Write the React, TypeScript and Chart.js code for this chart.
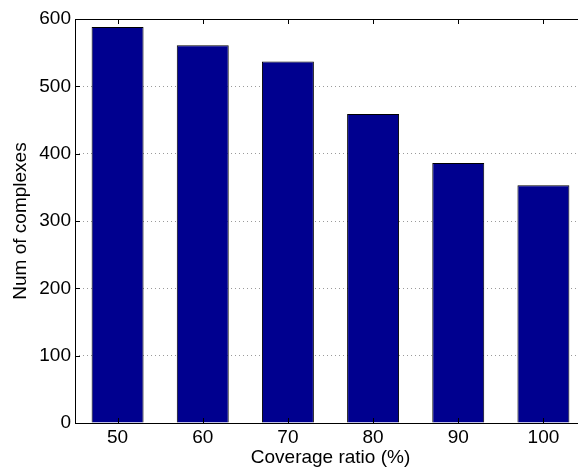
import React, { useEffect, useRef } from "react";
import { Chart, registerables } from "chart.js";

Chart.register(...registerables);

const categories: string[] = ["50", "60", "70", "80", "90", "100"];
const complexCounts: number[] = [588, 561, 537, 459, 386, 353];
const yTicks: number[] = [0, 100, 200, 300, 400, 500, 600];

const FONT = "'Liberation Sans', Arial, Helvetica, sans-serif";

const boxPlugin = {
  id: "matlabBox",
  afterDraw(chart: any) {
    const { ctx, chartArea } = chart;
    const { left, right, top, bottom } = chartArea;
    const xs = chart.scales.x;
    const ys = chart.scales.y;
    ctx.save();
    ctx.strokeStyle = "#000";
    ctx.lineWidth = 1;
    ctx.beginPath();
    ctx.moveTo(left + 0.5, top + 0.5);
    ctx.lineTo(right + 0.5, top + 0.5);
    ctx.lineTo(right + 0.5, bottom + 0.5);
    ctx.lineTo(left + 0.5, bottom + 0.5);
    ctx.closePath();
    ctx.stroke();
    const tl = 5;
    ctx.beginPath();
    for (let i = 0; i < ys.ticks.length; i++) {
      const y = Math.round(ys.getPixelForTick(i)) + 0.5;
      ctx.moveTo(left, y);
      ctx.lineTo(left + tl, y);
      ctx.moveTo(right, y);
      ctx.lineTo(right - tl, y);
    }
    for (let i = 0; i < xs.ticks.length; i++) {
      const x = Math.round(xs.getPixelForTick(i)) + 0.5;
      ctx.moveTo(x, top);
      ctx.lineTo(x, top + tl);
      ctx.moveTo(x, bottom);
      ctx.lineTo(x, bottom - tl);
    }
    ctx.stroke();
    ctx.restore();
  },
};

export default function App() {
  const ref = useRef<HTMLCanvasElement | null>(null);
  useEffect(() => {
    document.body.style.overflow = "hidden";
    const canvas = ref.current;
    if (!canvas) return;
    const chart = new Chart(canvas, {
      type: "bar",
      data: {
        labels: categories,
        datasets: [
          {
            data: complexCounts,
            backgroundColor: "#00008F",
            borderColor: "#000000",
            borderWidth: 1,
            barPercentage: 0.61,
            categoryPercentage: 1,
          },
        ],
      },
      options: {
        responsive: false,
        animation: false,
        devicePixelRatio: 1,
        layout: { padding: { top: 19, right: 14, left: 0, bottom: 0 } },
        plugins: {
          legend: { display: false },
          tooltip: { enabled: false },
        },
        scales: {
          x: {
            grid: { display: false, drawTicks: false },
            border: { display: false },
            ticks: {
              color: "#000",
              font: { family: FONT, size: 19 },
              padding: 3,
              maxRotation: 0,
            },
            title: {
              display: true,
              text: "Coverage ratio (%)",
              color: "#000",
              font: { family: FONT, size: 19 },
              padding: { top: 0, bottom: 3.6 },
            },
            afterFit(scale: any) {
              scale.height = 50;
            },
          },
          y: {
            min: 0,
            max: 600,
            afterBuildTicks(scale: any) {
              scale.ticks = yTicks.map((v) => ({ value: v }));
            },
            grid: {
              drawTicks: false,
              color: "#9a9a9a",
              lineWidth: 1,
            },
            border: { display: false, dash: [1, 3] },
            ticks: {
              color: "#000",
              font: { family: FONT, size: 19 },
              padding: 4,
            },
            title: {
              display: true,
              text: "Num of complexes",
              color: "#000",
              font: { family: FONT, size: 19 },
              padding: { top: 9.6, bottom: 0 },
            },
            afterFit(scale: any) {
              scale.width = 75;
            },
          },
        },
      },
      plugins: [boxPlugin],
    });
    return () => chart.destroy();
  }, []);
  return (
    <div style={{ position: "absolute", left: 0, top: 0, width: 600, height: 473 }}>
      <canvas ref={ref} width={600} height={473} style={{ width: 600, height: 473, display: "block" }} />
    </div>
  );
}
